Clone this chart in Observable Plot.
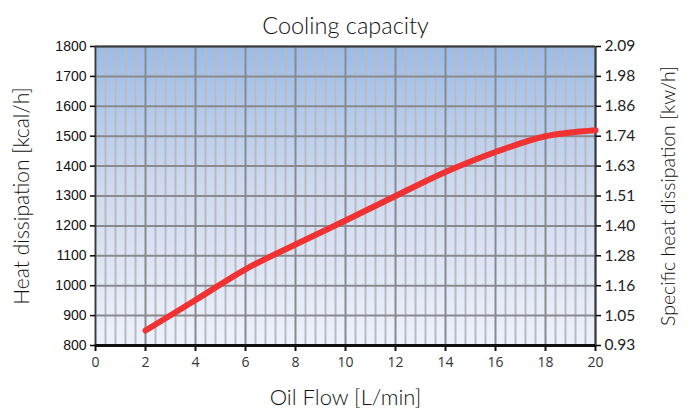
<!DOCTYPE html>
<html>
<head>
<meta charset="utf-8">
<script src="https://cdn.jsdelivr.net/npm/d3@7"></script>
<script src="https://cdn.jsdelivr.net/npm/@observablehq/plot@0.6"></script>
<style>
  html, body { margin: 0; padding: 0; background: #fff; }
  #chart svg { display: block; }
</style>
</head>
<body>
<div id="chart"></div>
<script>
// Data
const oilFlow = [2, 4, 6, 8, 10, 12, 14, 16, 18, 20];
const heatDissipation = [850, 952, 1055, 1138, 1218, 1300, 1380, 1447, 1500, 1520];
const xTicks = [0, 2, 4, 6, 8, 10, 12, 14, 16, 18, 20];
const yTicks = [800, 900, 1000, 1100, 1200, 1300, 1400, 1500, 1600, 1700, 1800];
const rightTickLabels = ["0.93", "1.05", "1.16", "1.28", "1.40", "1.51", "1.63", "1.74", "1.86", "1.98", "2.09"];
const minorX = d3.range(0, 50).map(i => i * 0.4).filter(v => Math.abs(v / 2 - Math.round(v / 2)) > 1e-6);

const data = oilFlow.map((f, i) => ({flow: f, heat: heatDissipation[i]}));

const defs = () => {
  const g = d3.create("svg:defs");
  const lg = g.append("linearGradient").attr("id", "bg").attr("x1", 0).attr("y1", 0).attr("x2", 0).attr("y2", 1);
  lg.append("stop").attr("offset", "0%").attr("stop-color", "#9bbce6");
  lg.append("stop").attr("offset", "45%").attr("stop-color", "#cdd9ef");
  lg.append("stop").attr("offset", "100%").attr("stop-color", "#eef2fb");
  return g.node();
};

const chart = Plot.plot({
  width: 693,
  height: 419,
  marginLeft: 95,
  marginRight: 98,
  marginTop: 46,
  marginBottom: 74,
  x: {domain: [0, 20]},
  y: {domain: [800, 1800]},
  marks: [
    defs,
    Plot.frame({fill: "url(#bg)", stroke: null}),
    Plot.ruleX(minorX, {stroke: "#b9b9c1", strokeWidth: 2}),
    Plot.ruleY(yTicks, {stroke: "#8a8a8e", strokeWidth: 2}),
    Plot.ruleX(xTicks, {stroke: "#8a8a8e", strokeWidth: 2}),
    Plot.ruleX([20], {stroke: "#3a3a3a", strokeWidth: 2}),
    Plot.ruleY([1800], {stroke: "#3a3a3a", strokeWidth: 2}),
    Plot.ruleX([0], {stroke: "#3a3a3a", strokeWidth: 1.5}),
    Plot.ruleY([800], {stroke: "#111", strokeWidth: 3}),
    Plot.axisX({ticks: xTicks, tickSize: 6, tickPadding: 6, label: null,
      fontSize: 14, fontFamily: "Open Sans", fill: "#333", stroke: "#111", strokeWidth: 2}),
    Plot.axisY({ticks: yTicks, tickSize: 5, tickPadding: 4, label: null,
      tickFormat: d => String(d),
      fontSize: 14, fontFamily: "Liberation Sans", fill: "#111", strokeWidth: 1.5}),
    Plot.axisY({anchor: "right", ticks: yTicks, tickSize: 5, tickPadding: 4, label: null,
      tickFormat: d => rightTickLabels[yTicks.indexOf(d)],
      fontSize: 15.5, fontFamily: "Lato", fill: "#222", strokeWidth: 1.5}),
    Plot.line(data, {x: "flow", y: "heat", curve: "catmull-rom",
      stroke: "#f03232", strokeWidth: 6, strokeLinecap: "round"}),
    Plot.text(["Cooling capacity"], {frameAnchor: "top", dy: -29, fontSize: 23.5, fontWeight: 300,
      fontFamily: "Lato", fill: "#111"}),
    Plot.text(["Oil Flow [L/min]"], {frameAnchor: "bottom", dy: 59, fontSize: 22, fontWeight: 300,
      fontFamily: "Lato", fill: "#111"}),
    Plot.text(["Heat dissipation [kcal/h]"], {frameAnchor: "middle", dx: -323, dy: 0, rotate: -90,
      textAnchor: "middle", fontSize: 21, fontWeight: 300, fontFamily: "Lato", fill: "#111"}),
    Plot.text(["Specific heat dissipation [kw/h]"], {frameAnchor: "middle", dx: 323, dy: 0, rotate: -90,
      textAnchor: "middle", fontSize: 19.5, fontWeight: 300, fontFamily: "Lato", fill: "#111"})
  ]
});
document.getElementById("chart").appendChild(chart);
</script>
</body>
</html>
